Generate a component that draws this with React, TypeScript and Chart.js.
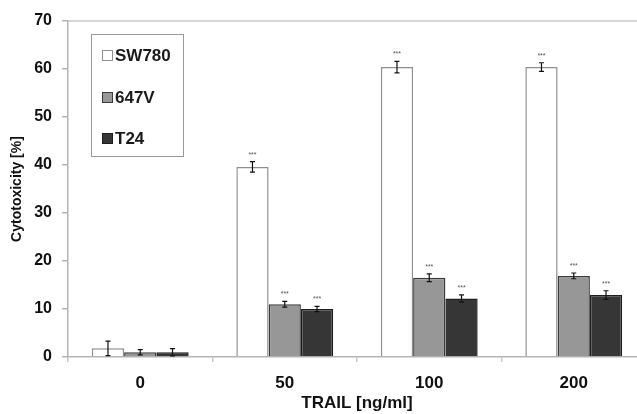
import React, { useEffect, useRef } from "react";
import { Chart, registerables } from "chart.js";

Chart.register(...registerables);

const categories = ["0", "50", "100", "200"];
const seriesNames = ["SW780", "647V", "T24"];
const sw780 = [1.8, 39.6, 60.4, 60.4];
const v647 = [1.0, 11.0, 16.5, 16.9];
const t24 = [1.0, 10.0, 12.2, 12.9];
const sw780Err = [1.5, 1.1, 1.2, 0.9];
const v647Err = [0.55, 0.6, 0.8, 0.6];
const t24Err = [0.75, 0.55, 0.75, 0.9];
const sw780Sig = ["", "***", "***", "***"];
const v647Sig = ["", "***", "***", "***"];
const t24Sig = ["", "***", "***", "***"];
const yTicks = [0, 10, 20, 30, 40, 50, 60, 70];

const FONT = "'Liberation Sans', Arial, sans-serif";

const errorBarPlugin = {
  id: "errorBars",
  afterDatasetsDraw(chart: any) {
    const ctx = chart.ctx;
    const yScale = chart.scales.y;
    chart.data.datasets.forEach((ds: any, di: number) => {
      const meta = chart.getDatasetMeta(di);
      meta.data.forEach((bar: any, i: number) => {
        const v = ds.data[i];
        const e = ds.errors[i];
        const x = bar.x;
        const yTop = yScale.getPixelForValue(v + e);
        const yBot = yScale.getPixelForValue(v - e);
        ctx.save();
        ctx.strokeStyle = "#111";
        ctx.lineWidth = 1.2;
        ctx.beginPath();
        ctx.moveTo(x, yTop);
        ctx.lineTo(x, yBot);
        ctx.moveTo(x - 2.5, yTop);
        ctx.lineTo(x + 2.5, yTop);
        ctx.moveTo(x - 2.5, yBot);
        ctx.lineTo(x + 2.5, yBot);
        ctx.stroke();
        const sig = ds.sig[i];
        if (sig) {
          ctx.fillStyle = "#555";
          ctx.font = `7px ${FONT}`;
          ctx.textAlign = "center";
          ctx.textBaseline = "middle";
          ctx.fillText(sig, x, yTop - 7);
        }
        ctx.restore();
      });
    });
  },
};

const frameLegendPlugin = {
  id: "frameLegend",
  afterDraw(chart: any) {
    const ctx = chart.ctx;
    const area = chart.chartArea;
    ctx.save();
    // top frame line
    ctx.strokeStyle = "#c8c8c8";
    ctx.lineWidth = 1.5;
    ctx.beginPath();
    ctx.moveTo(area.left, area.top);
    ctx.lineTo(area.right, area.top);
    ctx.stroke();
    // legend box
    const bx = 91, by = 34, bw = 92, bh = 122;
    ctx.fillStyle = "#fff";
    ctx.fillRect(bx, by, bw, bh);
    ctx.strokeStyle = "#9a9a9a";
    ctx.lineWidth = 1;
    ctx.strokeRect(bx + 0.5, by + 0.5, bw, bh);
    const rows = [55, 97, 138];
    chart.data.datasets.forEach((ds: any, i: number) => {
      const cy = rows[i];
      ctx.fillStyle = ds.backgroundColor;
      ctx.fillRect(102, cy - 5, 11, 11);
      ctx.strokeStyle = ds.borderColor;
      ctx.lineWidth = 1;
      ctx.strokeRect(102.5, cy - 4.5, 10, 10);
      ctx.fillStyle = "#1a1a1a";
      ctx.font = `bold 17px ${FONT}`;
      ctx.textAlign = "left";
      ctx.textBaseline = "middle";
      ctx.fillText(ds.label, 115, cy + 1);
    });
    ctx.restore();
  },
};

export default function App() {
  const ref = useRef<HTMLCanvasElement>(null);
  useEffect(() => {
    if (!ref.current) return;
    const chart = new Chart(ref.current, {
      type: "bar",
      data: {
        labels: categories,
        datasets: [
          {
            label: seriesNames[0],
            data: sw780,
            errors: sw780Err,
            sig: sw780Sig,
            backgroundColor: "#ffffff",
            borderColor: "#8f8f8f",
            borderWidth: 1.5,
          } as any,
          {
            label: seriesNames[1],
            data: v647,
            errors: v647Err,
            sig: v647Sig,
            backgroundColor: "#979797",
            borderColor: "#3c3c3c",
            borderWidth: 1.5,
          } as any,
          {
            label: seriesNames[2],
            data: t24,
            errors: t24Err,
            sig: t24Sig,
            backgroundColor: "#363636",
            borderColor: "#1e1e1e",
            borderWidth: 1.5,
          } as any,
        ],
      },
      options: {
        responsive: false,
        animation: false,
        devicePixelRatio: 1,
        layout: { padding: { left: 0, right: 14, top: 21, bottom: 0 } },
        datasets: { bar: { categoryPercentage: 0.67, barPercentage: 1.0 } },
        plugins: {
          legend: { display: false },
          tooltip: { enabled: false },
        },
        scales: {
          x: {
            offset: true,
            afterFit(scale: any) {
              scale.height = 57;
            },
            grid: {
              offset: true,
              drawOnChartArea: false,
              drawTicks: true,
              tickLength: 5,
              color: "#c8c8c8",
              lineWidth: 1.5,
            },
            border: { color: "#b4b4b4", width: 1.5 },
            ticks: {
              color: "#111",
              font: { family: FONT, size: 17, weight: "bold" },
              padding: 11,
            },
            title: {
              display: true,
              text: "TRAIL [ng/ml]",
              color: "#111",
              font: { family: FONT, size: 17, weight: "bold" },
              padding: { top: 2, bottom: 0 },
            },
          },
          y: {
            min: 0,
            max: 70,
            afterFit(scale: any) {
              scale.width = 68;
            },
            afterBuildTicks(scale: any) {
              scale.ticks = yTicks.map((v) => ({ value: v }));
            },
            grid: {
              drawOnChartArea: false,
              drawTicks: true,
              tickLength: 6,
              color: "#b4b4b4",
              lineWidth: 1.5,
            },
            border: { color: "#b4b4b4", width: 1.5 },
            ticks: {
              color: "#111",
              font: { family: FONT, size: 16, weight: "bold" },
              padding: 10,
            },
            title: {
              display: true,
              text: "Cytotoxicity [%]",
              color: "#111",
              font: { family: FONT, size: 14, weight: "bold" },
              padding: { top: 9, bottom: 0 },
            },
          },
        },
      },
      plugins: [errorBarPlugin, frameLegendPlugin],
    } as any);
    return () => chart.destroy();
  }, []);
  return (
    <div
      style={{
        position: "fixed",
        left: 0,
        top: 0,
        width: 637,
        height: 414,
        overflow: "hidden",
        background: "#fff",
      }}
    >
      <canvas ref={ref} width={660} height={414} style={{ display: "block" }} />
    </div>
  );
}
